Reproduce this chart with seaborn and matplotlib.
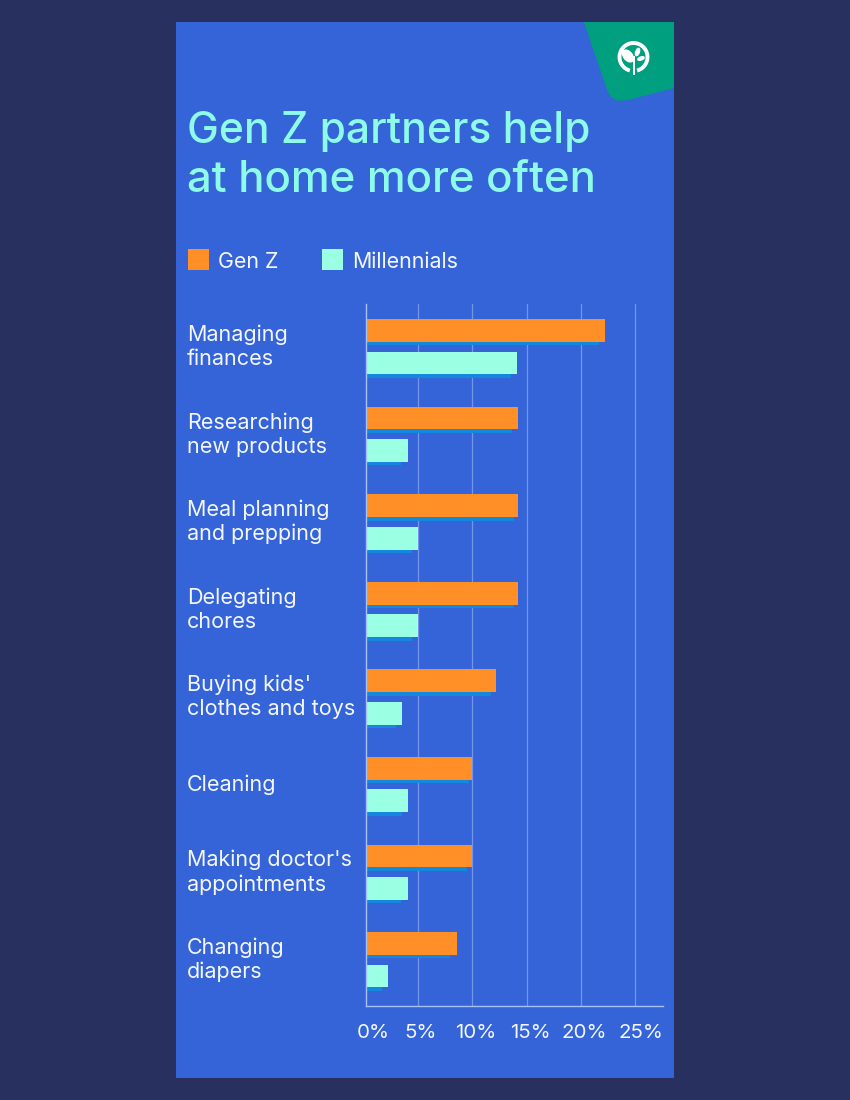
import matplotlib
matplotlib.use("Agg")
import matplotlib.pyplot as plt
import seaborn as sns
import pandas as pd
from matplotlib.patches import Rectangle, Polygon, Arc, Ellipse
from matplotlib.transforms import ScaledTranslation

categories = ["Managing\nfinances", "Researching\nnew products", "Meal planning\nand prepping",
              "Delegating\nchores", "Buying kids'\nclothes and toys", "Cleaning",
              "Making doctor's\nappointments", "Changing\ndiapers"]
gen_z = [22.2, 14.2, 14.2, 14.2, 12.2, 10.0, 10.0, 8.6]
millennials = [14.1, 4.1, 5.0, 5.0, 3.5, 4.1, 4.1, 2.2]
gen_z_shadow = [21.7, 13.7, 13.8, 13.8, 11.7, 9.7, 9.5, 7.9]
millennials_shadow = [13.6, 3.4, 4.4, 4.4, 3.0, 3.5, 3.4, 1.7]
series_names = ["Gen Z", "Millennials"]
ticks = [0, 5, 10, 15, 20, 25]
tick_labels = ["0%", "5%", "10%", "15%", "20%", "25%"]
title_lines = ["Gen Z partners help", "at home more often"]

BG, PANEL, GREEN = "#28305f", "#3464d8", "#009f7f"
ORANGE, MINT, SHADOW, TITLE, TEXT = "#ff8f26", "#9bffe3", "#1488dc", "#8efbe9", "#f4f7ff"
FONT = "Inter"

sns.set_theme(style="white")
plt.rcParams["font.family"] = [FONT, "DejaVu Sans"]

W, H = 850, 1100
fig = plt.figure(figsize=(W / 100, H / 100), dpi=100, facecolor=BG)

# decorative layer in pixel coordinates
bg = fig.add_axes([0, 0, 1, 1], zorder=0)
bg.set_xlim(0, W); bg.set_ylim(H, 0); bg.axis("off")
bg.add_patch(Rectangle((176, 22), 498, 1056, fc=PANEL, ec="none"))
bg.add_patch(Polygon([(584, 22), (674, 22), (674, 88), (628, 100), (618, 101), (611, 97), (607, 90)],
                     closed=True, fc=GREEN, ec="none"))
bg.add_patch(Arc((633.5, 57), 28, 28, theta1=105, theta2=75, color="white", lw=2.8))
bg.add_patch(Rectangle((632.6, 56), 2.2, 19, fc="white", ec="none"))
bg.add_patch(Ellipse((628, 56), 15, 10, angle=50, fc="white", ec="none"))
bg.add_patch(Ellipse((637.5, 52), 5, 9, angle=20, fc="white", ec="none"))
bg.add_patch(Ellipse((641, 58.5), 8, 4.5, angle=-20, fc="white", ec="none"))

bg.text(187, 132, title_lines[0], color=TITLE, fontsize=30.6, fontweight=500, va="center", ha="left")
bg.text(187, 181, title_lines[1], color=TITLE, fontsize=31.5, fontweight=500, va="center", ha="left")

for x, name, col in [(188, series_names[0], ORANGE), (322, series_names[1], MINT)]:
    bg.add_patch(Rectangle((x, 249), 21, 21, fc=col, ec="none"))
    bg.text(x + 30, 261.5, name, color=TEXT, fontsize=15.4, va="center", ha="left")

# axes geometry: the picture's value scale starts just left of the axis line
L, R, T, B = 366, 663, 304, 1006
PX_PER_UNIT = 10.85
XMIN = 0.2
rect = [L / W, 1 - B / H, (R - L) / W, (B - T) / H]
xlim = (XMIN, XMIN + (R - L) / PX_PER_UNIT)
ylim = (7.528, -0.488)
shift = 3.5 / 87.57
tick_pos = [XMIN] + ticks[1:]
label_dx = [7, 2, 3.7, 4, 3.5, 6]

def frame(a, b):
    return pd.DataFrame({"cat": categories * 2,
                         "val": list(a) + list(b),
                         "series": [series_names[0]] * len(a) + [series_names[1]] * len(b)})

# shadows + grid underneath
ax0 = fig.add_axes(rect, zorder=1, facecolor="none")
sns.barplot(data=frame(gen_z_shadow, millennials_shadow), y="cat", x="val", hue="series", orient="h",
            palette=[SHADOW, SHADOW], width=0.742, gap=0.3, legend=False, ax=ax0, order=categories,
            saturation=1, linewidth=0, edgecolor="none")
ax0.set_xlim(*xlim); ax0.set_ylim(ylim[0] - shift, ylim[1] - shift)
ax0.set_xticks(ticks[1:]); ax0.set_yticks([])
ax0.set_xticklabels([]); ax0.set_xlabel(""); ax0.set_ylabel("")
ax0.tick_params(length=0)
ax0.grid(axis="x", color="#7395ea", lw=0.9)
ax0.set_axisbelow(True)
sns.despine(ax=ax0, left=True, bottom=True)

# main bars
ax = fig.add_axes(rect, zorder=2, facecolor="none")
sns.barplot(data=frame(gen_z, millennials), y="cat", x="val", hue="series", orient="h",
            palette=[ORANGE, MINT], width=0.742, gap=0.3, legend=False, ax=ax, order=categories,
            saturation=1, linewidth=0, edgecolor="none")
ax.set_xlim(*xlim); ax.set_ylim(*ylim)
ax.set_xticks(tick_pos)
ax.set_xticklabels(tick_labels, color=TEXT, fontsize=14.8)
ax.set_xlabel(""); ax.set_ylabel("")
ax.tick_params(axis="x", length=0, pad=13)
ax.tick_params(axis="y", length=0, pad=0)
ax.set_yticks(range(len(categories)))
ax.set_yticklabels([])
for lab, dx in zip(ax.get_xticklabels(), label_dx):
    lab.set_transform(lab.get_transform() + ScaledTranslation(dx / 100, 0, fig.dpi_scale_trans))
for i, c in enumerate(categories):
    ax.annotate(c, xy=(0, i), xycoords=("axes fraction", "data"), xytext=(187, 0),
                textcoords=("figure pixels", "offset points"), color=TEXT, fontsize=15.5,
                ha="left", va="center", linespacing=1.25)
sns.despine(ax=ax, top=True, right=True)
for s in ("left", "bottom"):
    ax.spines[s].set_color("#a9c0f2"); ax.spines[s].set_linewidth(1.0)

fig.savefig("out.png", dpi=100, facecolor=BG)
